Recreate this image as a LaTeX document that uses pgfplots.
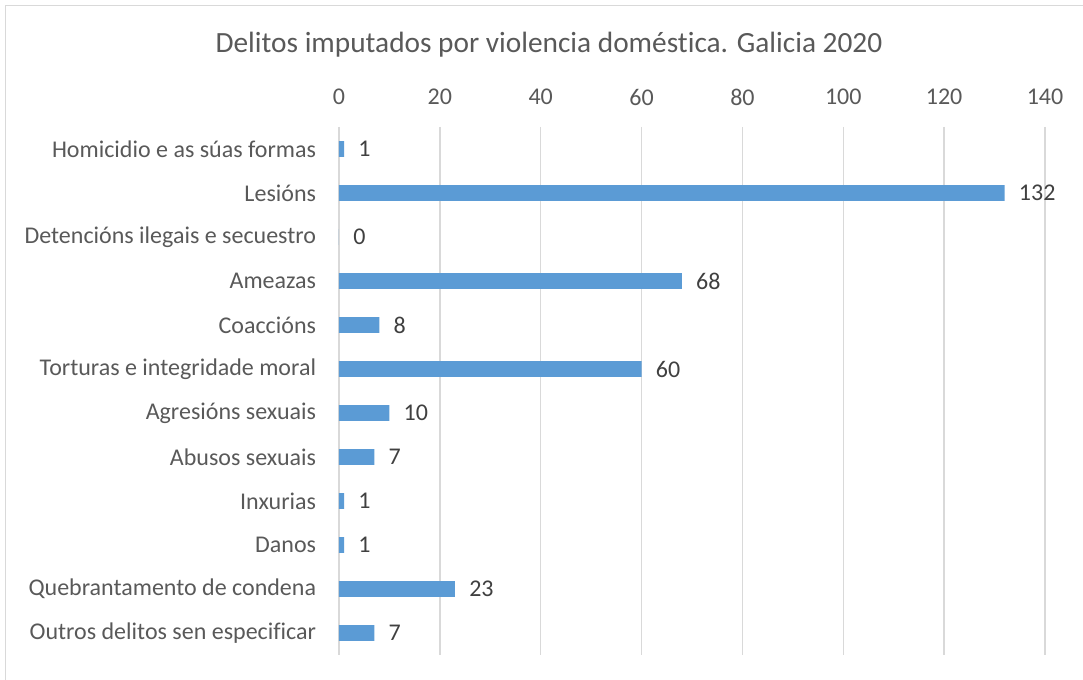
\documentclass[border=0pt]{standalone}
\usepackage{fontspec}
\setmainfont[Ligatures={NoCommon}]{Carlito}
\usepackage{pgfplots}
\pgfplotsset{compat=1.18}

\definecolor{barblue}{HTML}{5B9BD5}
\definecolor{gridgray}{HTML}{D9D9D9}
\definecolor{txtgray}{HTML}{595959}
\definecolor{lblgray}{HTML}{404040}

\begin{document}
\begin{tikzpicture}
% page = 1083x680 px at 0.75pt per px
\useasboundingbox (0,0) rectangle (812.25pt,510pt);
\draw[gridgray, line width=1.2pt] (4.125pt,-20pt) -- (4.125pt,505.875pt) -- (830pt,505.875pt);
\node[txtgray, font=\fontsize{22}{26}\selectfont] at (411.75pt,476.25pt)
  {Delitos imputados por violencia doméstica. Galicia 2020};
\begin{axis}[
    at={(254.25pt,18.75pt)}, anchor=south west,
    scale only axis,
    width=529.5pt, height=396pt,
    xbar, bar width=11.8pt,
    xmin=0, xmax=140,
    ymin=-0.5, ymax=11.5,
    y dir=reverse,
    xtick={0,20,...,140},
    ytick={0,...,11},
    yticklabels={Homicidio e as súas formas, Lesións, Detencións ilegais e secuestro,
      Ameazas, Coaccións, Torturas e integridade moral, Agresións sexuais,
      Abusos sexuais, Inxurias, Danos, Quebrantamento de condena,
      Outros delitos sen especificar},
    xticklabel pos=upper,
    axis line style={draw=none},
    major tick length=0pt,
    xmajorgrids,
    major grid style={gridgray, line width=1.1pt},
    tick label style={txtgray, font=\fontsize{18}{21}\selectfont},
    xticklabel style={anchor=center, inner sep=0pt, yshift=22.5pt},
    yticklabel style={anchor=east, inner sep=0pt, xshift=-17pt},
    /pgf/number format/assume math mode=true,
    point meta=x,
    nodes near coords,
    nodes near coords style={lblgray, font=\fontsize{18}{21}\selectfont,
      anchor=west, inner sep=0pt, xshift=10.5pt},
]
\addplot[fill=barblue, draw=none] coordinates {
  (1,0) (132,1) (0,2) (68,3) (8,4) (60,5)
  (10,6) (7,7) (1,8) (1,9) (23,10) (7,11)
};
\end{axis}
\end{tikzpicture}
\end{document}
